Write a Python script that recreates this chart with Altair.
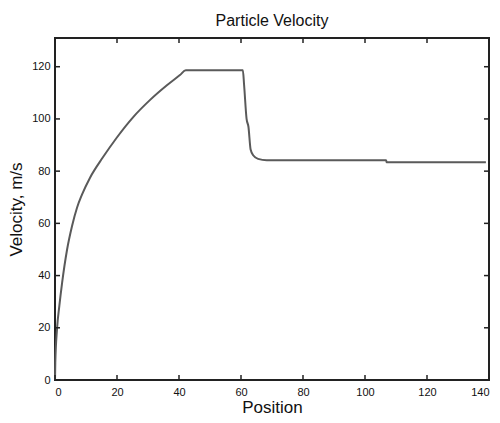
import altair as alt
import pandas as pd

position = [0, 0.1, 0.65, 1.4, 2.3, 3.9, 5.5, 7.1, 8.7, 11.3, 15.4, 19.9, 25.3,
            30.6, 36.0, 40.3, 42.2, 60.6, 61.0, 61.8, 62.4, 63.1, 64.0, 65.5, 68.3,
            106.8, 107.0, 139.0]
velocity = [0, 6.7, 19.5, 28.4, 37.3, 50.0, 59.0, 66.0, 71.0, 77.5, 85.2, 92.8, 100.8,
            107.2, 112.8, 116.8, 118.6, 118.6, 113, 100, 97, 88.3, 86.0, 84.7, 84.2,
            84.2, 83.4, 83.4]
x_ticks = [0, 20, 40, 60, 80, 100, 120, 140]
y_ticks = [0, 20, 40, 60, 80, 100, 120]

df = pd.DataFrame({"Position": position, "Velocity": velocity})
xt = pd.DataFrame({"t": x_ticks})
yt = pd.DataFrame({"t": y_ticks})

W, H = 434, 342
FONT = "Liberation Sans"

xs = alt.Scale(domain=[0, 140], nice=False, zero=False)
ys = alt.Scale(domain=[0, 131], nice=False, zero=False)

line = alt.Chart(df).mark_line(color="#5a5a5a", strokeWidth=2, interpolate="monotone").encode(
    x=alt.X("Position:Q", scale=xs,
            axis=alt.Axis(values=x_ticks, ticks=False, domain=False, grid=False,
                          title="Position", titleFontSize=17, titleFont=FONT,
                          titleFontWeight="normal", titlePadding=2, titleColor="#111",
                          labelFont=FONT, labelFontSize=11, labelPadding=6, labelColor="#111")),
    y=alt.Y("Velocity:Q", scale=ys,
            axis=alt.Axis(values=y_ticks, ticks=False, domain=False, grid=False,
                          title="Velocity, m/s", titleFontSize=17, titleFont=FONT,
                          titleFontWeight="normal", titlePadding=6, titleColor="#111",
                          labelFont=FONT, labelFontSize=11, labelPadding=5, labelColor="#111")),
)

tick_col = "#222222"
bx = alt.Chart(xt).mark_rule(color=tick_col, strokeWidth=1.5).encode(
    x=alt.X("t:Q", scale=xs), y=alt.value(H), y2=alt.value(H - 5))
tx = alt.Chart(xt).mark_rule(color=tick_col, strokeWidth=1.5).encode(
    x=alt.X("t:Q", scale=xs), y=alt.value(0), y2=alt.value(5))
ly = alt.Chart(yt).mark_rule(color=tick_col, strokeWidth=1.5).encode(
    y=alt.Y("t:Q", scale=ys), x=alt.value(0), x2=alt.value(5))
ry = alt.Chart(yt).mark_rule(color=tick_col, strokeWidth=1.5).encode(
    y=alt.Y("t:Q", scale=ys), x=alt.value(W), x2=alt.value(W - 5))

chart = alt.layer(line, bx, tx, ly, ry).properties(
    width=W, height=H,
    title=alt.TitleParams("Particle Velocity", font=FONT, fontSize=16,
                          fontWeight="normal", offset=8, color="#111"),
    autosize=alt.AutoSizeParams(type="none"),
    padding={"left": 47, "top": 30, "right": 3, "bottom": 35},
).configure(background="white").configure_view(stroke="#222222", strokeWidth=2)

chart.save("out.html", embed_options={"renderer": "svg", "actions": False})
